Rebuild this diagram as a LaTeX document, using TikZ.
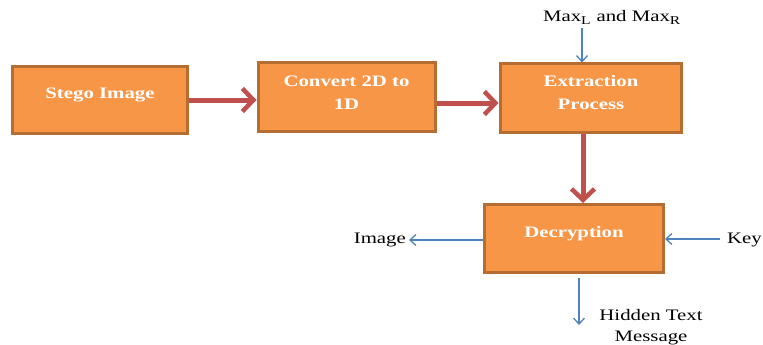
\documentclass[tikz,border=0pt]{standalone}
\usepackage{fontspec}
\setmainfont{Liberation Serif}
\usetikzlibrary{arrows.meta}
\definecolor{boxfill}{HTML}{F79646}
\definecolor{boxline}{HTML}{B66D31}
\definecolor{redarrow}{HTML}{C0504D}
\definecolor{bluearrow}{HTML}{4F81BD}
\newcommand{\wide}[1]{\scalebox{1.3}[1]{#1}}
\tikzset{
  procbox/.style={draw=boxline, fill=boxfill, line width=3pt, inner sep=0pt},
  boxtext/.style={text=white, font=\fontsize{16}{20}\selectfont\bfseries, anchor=base, inner sep=0pt},
  plaintext/.style={text=black, font=\fontsize{16}{20}\selectfont, anchor=base, inner sep=0pt},
  mainflow/.style={draw=redarrow, line width=5pt, -{Straight Barb[length=11pt, width=23pt, line width=4.5pt]}},
  sideflow/.style={draw=bluearrow, line width=1.3pt, -{Straight Barb[length=6pt, width=11pt, line width=1.3pt]}},
}
\begin{document}
\begin{tikzpicture}[x=1pt, y=-1pt]
\useasboundingbox (0,0) rectangle (763,345);
% boxes
\node[procbox, minimum width=175pt, minimum height=66pt] (stego) at (99.5,100) {};
\node[procbox, minimum width=177pt, minimum height=68pt] (conv) at (346.5,97) {};
\node[procbox, minimum width=181pt, minimum height=68pt] (extr) at (590.5,98) {};
\node[procbox, minimum width=179pt, minimum height=68pt] (decr) at (574,238.5) {};
% box texts
\node[boxtext] (t1) at (100,98) {\wide{Stego Image}};
\node[boxtext] (t2a) at (346.5,87) {\wide{Convert 2D to}};
\node[boxtext] (t2b) at (346.5,109) {\wide{1D}};
\node[boxtext] (t3a) at (591,87) {\wide{Extraction}};
\node[boxtext] (t3b) at (591,109) {\wide{Process}};
\node[boxtext] (t4) at (574,237) {\wide{Decryption}};
% labels
\node[plaintext] (maxl) at (612,22) {\wide{Max\textsubscript{\large L} and Max\textsubscript{\large R}}};
\node[plaintext, anchor=base east] (img) at (406,243) {\wide{Image}};
\node[plaintext, anchor=base west] (key) at (727,243) {\wide{Key}};
\node[plaintext] (hid1) at (651,320) {\wide{Hidden Text}};
\node[plaintext] (hid2) at (651,341) {\wide{Message}};
% coordinates for free ends
\coordinate (maxs) at (582,28);
\coordinate (imge) at (409,240);
\coordinate (keys) at (720,239);
\coordinate (hids) at (579,278);
\coordinate (hide) at (579,325);
% main flow
\draw[mainflow] (stego.east |- 0,100) -- (conv.west |- 0,100);
\draw[mainflow] (conv.east |- 0,103) -- (extr.west |- 0,103);
\draw[mainflow] (extr.south -| 583,0) -- (decr.north -| 583,0);
% side flows
\draw[sideflow] (maxs) -- (extr.north -| maxs);
\draw[sideflow] (decr.west |- imge) -- (imge);
\draw[sideflow] (keys) -- (decr.east |- keys);
\draw[sideflow] (hids) -- (hide);
\end{tikzpicture}
\end{document}
